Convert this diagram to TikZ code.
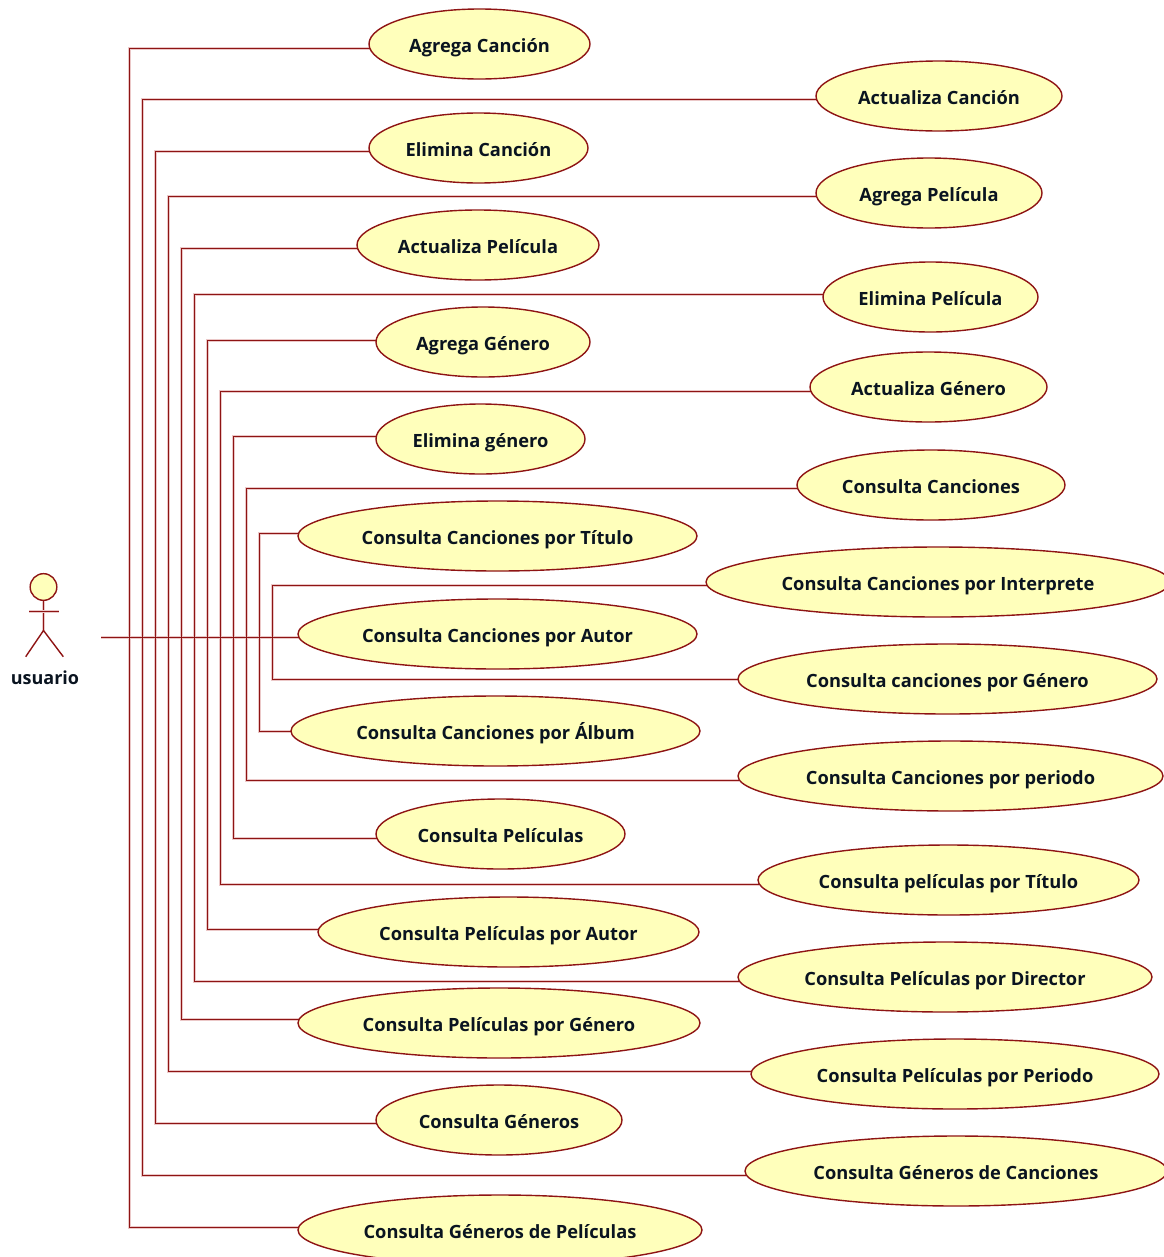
\documentclass[tikz,border=0pt]{standalone}
\usepackage{fontspec}
\setmainfont{Open Sans}[BoldFont={Open Sans Bold}]
\usetikzlibrary{shapes.geometric,backgrounds}
\definecolor{umlline}{HTML}{8E1414}
\definecolor{umlhalo}{HTML}{EBC8C8}
\definecolor{umlfill}{HTML}{FFFFBB}
\definecolor{umltext}{HTML}{0A1420}
\newcommand{\uc}[5]{% name, left, right, centre y, text
  \pgfmathsetmacro{\ucw}{(#3-#2)*0.75}%
  \node[usecase,minimum width=\ucw pt] (#1) at ({(#2+#3)/2},#4) {#5};}
\newcommand{\busline}[5]{% top node, bottom node, bus x, top y, bottom y
  \begin{scope}[on background layer]
  \draw[conn] ([xshift=1.5pt]#1.west |- 0,#4) -- (#3,#4) -- (#3,#5) -- ([xshift=1.5pt]#2.west |- 0,#5);
  \end{scope}}
\tikzset{
  usecase/.style={ellipse,draw=umlline,fill=umlfill,line width=1.05pt,minimum height=52.5pt,inner sep=0pt,
    text=umltext,text height=12pt,text depth=0pt,font=\fontsize{13.7pt}{15pt}\selectfont\bfseries},
  coreline/.style={draw=umlline,line width=0.9pt},
  conn/.style={coreline,preaction={draw=umlhalo,line width=2.25pt}},
  actorbody/.style={draw=umlline,line width=1.05pt},
  actorlabel/.style={text=umltext,font=\fontsize{13.5pt}{15pt}\selectfont\bfseries,inner sep=0pt}
}
\begin{document}
\begin{tikzpicture}[x=0.75pt,y=-0.75pt]
\useasboundingbox (0,0) rectangle (1164,1257);
\clip (0,0) rectangle (1164,1257);
\uc{a1}{369}{590}{44}{Agrega Canción}
\uc{b1}{816}{1062}{96}{Actualiza Canción}
\uc{a2}{369}{588}{148}{Elimina Canción}
\uc{b2}{816}{1042}{193}{Agrega Película}
\uc{a3}{357}{599}{245}{Actualiza Película}
\uc{b3}{823}{1038}{297}{Elimina Película}
\uc{a4}{376}{590}{342}{Agrega Género}
\uc{b4}{810}{1047}{387}{Actualiza Género}
\uc{a5}{376}{585}{439}{Elimina género}
\uc{b5}{797}{1065}{485}{Consulta Canciones}
\uc{a6}{298}{697}{536}{Consulta Canciones por Título}
\uc{b6}{706}{1170}{582}{Consulta Canciones por Interprete}
\uc{a7}{298}{697}{634}{Consulta Canciones por Autor}
\uc{b7}{738}{1157}{679}{Consulta canciones por Género}
\uc{a8}{291}{700}{731}{Consulta Canciones por Álbum}
\uc{b8}{738}{1163}{776}{Consulta Canciones por periodo}
\uc{a9}{376}{625}{834}{Consulta Películas}
\uc{b9}{758}{1139}{880}{Consulta películas por Título}
\uc{a10}{318}{699}{932}{Consulta Películas por Autor}
\uc{b10}{738}{1152}{977}{Consulta Películas por Director}
\uc{a11}{298}{700}{1023}{Consulta Películas por Género}
\uc{b11}{751}{1159}{1074}{Consulta Películas por Periodo}
\uc{a12}{376}{622}{1120}{Consulta Géneros}
\uc{b12}{745}{1167}{1171}{Consulta Géneros de Canciones}
\uc{a13}{298}{702}{1230}{Consulta Géneros de Películas}
% actor
\node[circle,draw=umlline,fill=umlfill,line width=1.05pt,minimum size=20pt,inner sep=0pt] (head) at (43.5,587) {};
\coordinate (crotch) at (43.5,630.5);
\coordinate (armL) at (29,611.5);
\coordinate (armR) at (59,611.5);
\coordinate (footL) at (25.7,656.7);
\coordinate (footR) at (63.3,656.7);
\draw[conn] (head.south) -- (crotch);
\draw[conn] (armL) -- (armR);
\draw[actorbody] (footL) -- (crotch) -- (footR);
\node[actorlabel] (actorname) at (45,678) {usuario};
\coordinate (actorport) at (101,637.5);
% connectors: trunk halo first, the buses, then the trunk's core on top
\begin{scope}[on background layer]
\draw[draw=umlhalo,line width=2.25pt] (actorport) -- ([xshift=1.5pt]a7.west |- actorport);
\end{scope}
\busline{a1}{a13}{129.5}{48.5}{1227.5}
\busline{b1}{b12}{142.5}{99.5}{1175.5}
\busline{a2}{a12}{155.5}{151.5}{1123.5}
\busline{b2}{b11}{168.5}{196.5}{1071.5}
\busline{a3}{a11}{181.5}{248.5}{1019.5}
\busline{b3}{b10}{194.5}{294.5}{981.5}
\busline{a4}{a10}{207.5}{340.5}{929.5}
\busline{b4}{b9}{220.5}{391.5}{884.5}
\busline{a5}{a9}{233.5}{436.5}{838.5}
\busline{b5}{b8}{246.5}{488.5}{780.5}
\busline{a6}{a8}{259.5}{533.5}{731.5}
\busline{b6}{b7}{272.5}{585.5}{679.5}
\begin{scope}[on background layer]
\draw[coreline] (actorport) -- ([xshift=1.5pt]a7.west |- actorport);
\end{scope}
\end{tikzpicture}
\end{document}
